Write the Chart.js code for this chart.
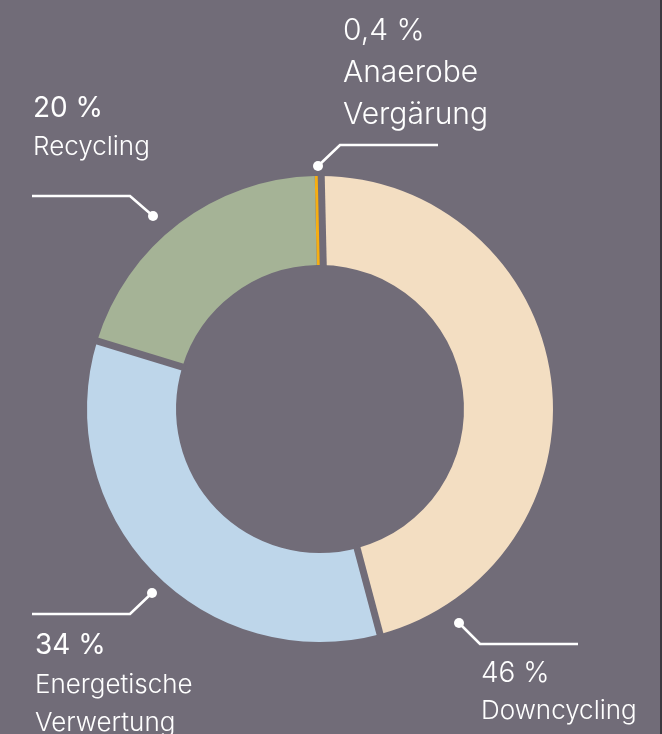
<!DOCTYPE html>
<html>
<head>
<meta charset="utf-8">
<script src="https://cdn.jsdelivr.net/npm/chart.js@4.4.1/dist/chart.umd.min.js"></script>
<style>
  html, body { margin: 0; padding: 0; background: #3b3940; }
  #wrap { width: 660px; height: 734px; background: #716c78; overflow: hidden; }
  canvas { display: block; }
</style>
</head>
<body>
<div id="wrap"><canvas id="c" width="662" height="734"></canvas></div>
<script>
// ---- data ----
const categories = ["Anaerobe Vergärung", "Downcycling", "Energetische Verwertung", "Recycling"];
const shares = [0.4, 46, 34, 20];
const shareLabels = ["0,4 %", "46 %", "34 %", "20 %"];
const nameLines = [["Anaerobe", "Vergärung"], ["Downcycling"], ["Energetische", "Verwertung"], ["Recycling"]];

// ---- styles / layout ----
const BG = "#716c78";
const sliceColors = ["#f6ae12", "#f3dec2", "#bed6ea", "#a5b396"];
const labelLayout = [
  { x: 343, baselines: [40, 82, 124], pctFont: "300 30px Inter", nameFont: "300 30px Inter", line: [[318, 166], [340, 145], [438, 145]] },
  { x: 481, baselines: [682, 719], pctFont: "300 28px Inter", nameFont: "300 26px Inter", line: [[459, 623], [480, 644], [578, 644]] },
  { x: 35, baselines: [654, 693, 731], pctFont: "400 28px Inter", nameFont: "300 26px Inter", line: [[152, 593], [130, 614], [32, 614]] },
  { x: 33, baselines: [117, 155], pctFont: "400 28px Inter", nameFont: "300 26px Inter", line: [[153, 216], [130, 196], [32, 196]] }
];
const GAP = 7;

const gapPlugin = {
  id: "gaps",
  afterDatasetsDraw(chart) {
    const ctx = chart.ctx;
    const arcs = chart.getDatasetMeta(0).data;
    ctx.save();
    ctx.strokeStyle = BG;
    ctx.lineWidth = GAP;
    ctx.lineCap = "butt";
    arcs.forEach((arc, i) => {
      if (i === arcs.length - 1) return; // no gap between last slice and the thin first slice
      const p = arc.getProps(["x", "y", "startAngle", "endAngle", "innerRadius", "outerRadius"], true);
      let a, d;
      if (p.endAngle - p.startAngle < 0.05) { a = p.startAngle; d = 3 + GAP / 2; }
      else { a = p.endAngle; d = 0; }
      const ca = Math.cos(a), sa = Math.sin(a);
      const r0 = p.innerRadius - 3, r1 = p.outerRadius + 3;
      ctx.beginPath();
      ctx.moveTo(p.x + r0 * ca - d * sa, p.y + r0 * sa + d * ca);
      ctx.lineTo(p.x + r1 * ca - d * sa, p.y + r1 * sa + d * ca);
      ctx.stroke();
    });
    ctx.restore();
  }
};

const labelPlugin = {
  id: "labels",
  afterDraw(chart) {
    const ctx = chart.ctx;
    ctx.save();
    ctx.fillStyle = "#ffffff";
    ctx.strokeStyle = "#ffffff";
    ctx.textBaseline = "alphabetic";
    ctx.textAlign = "left";
    labelLayout.forEach((L, i) => {
      ctx.lineWidth = 2.6;
      ctx.lineJoin = "miter";
      ctx.beginPath();
      ctx.moveTo(L.line[0][0], L.line[0][1]);
      for (let k = 1; k < L.line.length; k++) ctx.lineTo(L.line[k][0], L.line[k][1]);
      ctx.stroke();
      ctx.beginPath();
      ctx.arc(L.line[0][0], L.line[0][1], 5, 0, Math.PI * 2);
      ctx.fill();
      ctx.font = L.pctFont;
      ctx.fillText(shareLabels[i], L.x, L.baselines[0]);
      ctx.font = L.nameFont;
      nameLines[i].forEach((t, k) => ctx.fillText(t, L.x, L.baselines[k + 1]));
    });
    ctx.restore();
  }
};

new Chart(document.getElementById("c"), {
  type: "doughnut",
  data: {
    labels: categories,
    datasets: [{
      data: shares,
      backgroundColor: sliceColors,
      borderWidth: 0,
      hoverOffset: 0
    }]
  },
  options: {
    responsive: false,
    animation: false,
    cutout: "61.8%",
    rotation: -1.3,
    layout: { padding: { left: 87, right: 109, top: 176, bottom: 92 } },
    plugins: { legend: { display: false }, tooltip: { enabled: false } },
    events: []
  },
  plugins: [gapPlugin, labelPlugin]
});
</script>
</body>
</html>
